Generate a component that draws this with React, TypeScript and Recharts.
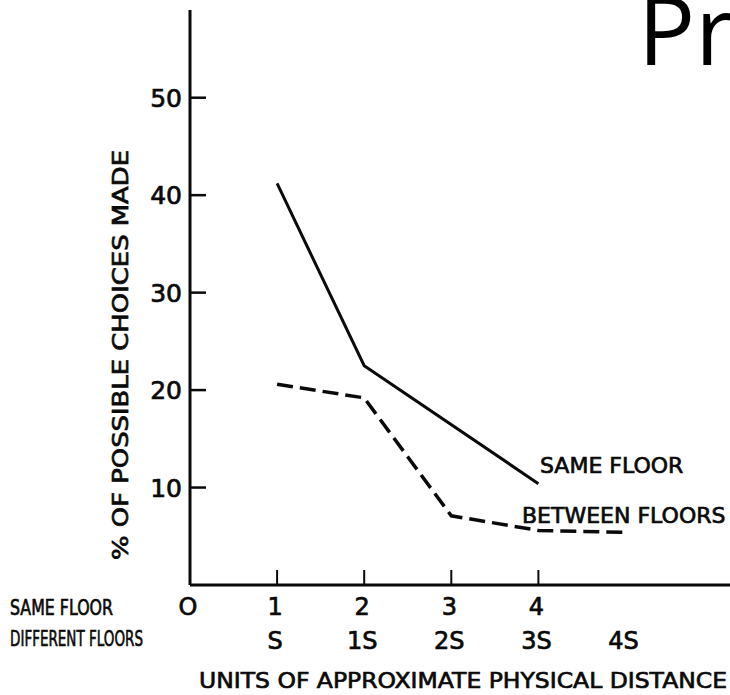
import React from 'react';
import { LineChart, Line, XAxis, YAxis } from 'recharts';

// distance units along the x axis
const distanceUnits = [0, 1, 2, 3, 4, 5];
const sameFloorTickLabels = ['0', '1', '2', '3', '4', ''];
const differentFloorTickLabels = ['', 'S', '1S', '2S', '3S', '4S'];
const pctTicks = [10, 20, 30, 40, 50];

// % of possible choices made
const sameFloorDist = [1, 2, 4];
const sameFloorPct = [41.2, 22.5, 10.4];
const betweenFloorsDist = [1, 2, 3, 4, 5];
const betweenFloorsPct = [20.6, 19.2, 7.1, 5.6, 5.4];

const sameFloorData = sameFloorDist.map((d, i) => ({ dist: d, pct: sameFloorPct[i] }));
const betweenFloorsData = betweenFloorsDist.map((d, i) => ({ dist: d, pct: betweenFloorsPct[i] }));

const FONT = '"DejaVu Sans", sans-serif';
const INK = '#0a0a0a';
// lettering in the scan is a bit heavier than a regular face
const ink = { fill: INK, stroke: INK, strokeWidth: 0.7, fontFamily: FONT };

function XTick(props: any) {
  const { x, y, payload } = props;
  const i = distanceUnits.indexOf(payload.value);
  const showMark = sameFloorTickLabels[i] !== '' && payload.value !== 0;
  return (
    <g>
      {showMark && <line x1={x} x2={x} y1={y} y2={y - 15} stroke={INK} strokeWidth={2} />}
      <text x={x - 2} y={y + 30} textAnchor="middle" fontSize={24} {...ink}>
        {sameFloorTickLabels[i] === '0' ? 'O' : sameFloorTickLabels[i]}
      </text>
      <text x={x - 2} y={y + 64} textAnchor="middle" fontSize={24} {...ink}>
        {differentFloorTickLabels[i]}
      </text>
    </g>
  );
}

function YTick(props: any) {
  const { x, y, payload } = props;
  return (
    <g>
      <line x1={x} x2={x + 16} y1={y} y2={y} stroke={INK} strokeWidth={2.5} />
      <text x={x - 8} y={y + 9} textAnchor="end" fontSize={25} {...ink}>
        {payload.value}
      </text>
    </g>
  );
}

export default function App() {
  return (
    <div style={{ position: 'absolute', left: 0, top: 0, width: 730, height: 695, background: '#fff', overflow: 'hidden' }}>
      <LineChart width={730} height={695} margin={{ top: 10, right: 0, bottom: 0, left: 0 }}>
        <XAxis
          dataKey="dist"
          type="number"
          domain={[0, 6.2]}
          ticks={distanceUnits}
          height={110}
          tickSize={0}
          tickMargin={0}
          tickLine={false}
          axisLine={{ stroke: INK, strokeWidth: 3 }}
          tick={<XTick />}
          allowDataOverflow
        />
        <YAxis
          type="number"
          domain={[0, 59]}
          ticks={pctTicks}
          width={190}
          tickSize={0}
          tickMargin={0}
          tickLine={false}
          axisLine={{ stroke: INK, strokeWidth: 3 }}
          tick={<YTick />}
          allowDataOverflow
        />
        <Line
          data={sameFloorData}
          dataKey="pct"
          type="linear"
          stroke={INK}
          strokeWidth={3}
          dot={false}
          isAnimationActive={false}
        />
        <Line
          data={betweenFloorsData}
          dataKey="pct"
          type="linear"
          stroke={INK}
          strokeWidth={3.5}
          strokeDasharray="16 7"
          dot={false}
          isAnimationActive={false}
        />
      </LineChart>
      <svg width={730} height={695} style={{ position: 'absolute', left: 0, top: 0, pointerEvents: 'none' }}>
        <text x={638} y={65} fontFamily='"Open Sans", sans-serif' fontSize={95} fill="#000">Pr</text>
        <text
          transform="translate(128 355) rotate(-90)"
          textAnchor="middle"
          fontSize={21}
          {...ink}
          textLength={410}
          lengthAdjust="spacingAndGlyphs"
        >
          % OF POSSIBLE CHOICES MADE
        </text>
        <text x={540} y={473} fontSize={22} {...ink}>SAME FLOOR</text>
        <text x={522} y={523} fontSize={22} {...ink}>BETWEEN FLOORS</text>
        <text x={10} y={615} fontSize={21} {...ink} textLength={103} lengthAdjust="spacingAndGlyphs">
          SAME FLOOR
        </text>
        <text x={10} y={646} fontSize={21} {...ink} textLength={133} lengthAdjust="spacingAndGlyphs">
          DIFFERENT FLOORS
        </text>
        <text x={199} y={688} fontSize={22} {...ink} textLength={528} lengthAdjust="spacingAndGlyphs">
          UNITS OF APPROXIMATE PHYSICAL DISTANCE
        </text>
      </svg>
    </div>
  );
}
